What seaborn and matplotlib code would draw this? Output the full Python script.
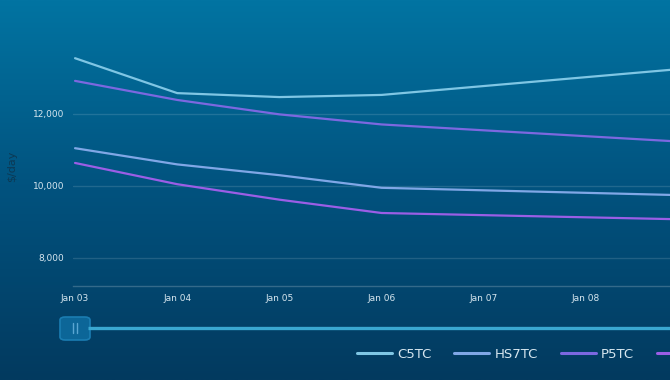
import numpy as np
import pandas as pd
import matplotlib
matplotlib.use("Agg")
import matplotlib.pyplot as plt
import seaborn as sns
from matplotlib.colors import LinearSegmentedColormap
from matplotlib.patches import FancyBboxPatch
from matplotlib.lines import Line2D

# ---- data ----
months = ["Jan 03", "Jan 04", "Jan 05", "Jan 06", "Jan 07", "Jan 08", "Jan 09"]
point_idx = [0, 1, 2, 3, 6]
series_names = ["C5TC", "HS7TC", "P5TC", "S10TC"]
c5tc = [13550, 12580, 12470, 12530, 13270]
hs7tc = [11050, 10600, 10300, 9950, 9740]
p5tc = [12920, 12390, 11990, 11710, 11220]
s10tc = [10640, 10050, 9620, 9250, 9070]
y_ticks = [8000, 10000, 12000]
y_tick_labels = ["8,000", "10,000", "12,000"]
colors = ["#7fc6e4", "#80a7e6", "#7c68e0", "#9b5ee6"]

rows = []
for name, vals in zip(series_names, [c5tc, hs7tc, p5tc, s10tc]):
    for i, v in zip(point_idx, vals):
        rows.append({"x": i, "value": v, "series": name})
df = pd.DataFrame(rows)

sns.set_theme(style="white")
plt.rcParams['font.family'] = ['DejaVu Sans']

W, H = 670, 380
fig = plt.figure(figsize=(W / 100, H / 100), dpi=100)

# background gradient
bg = fig.add_axes([0, 0, 1, 1], zorder=-10)
grad = np.linspace(0, 1, 256)[:, None]
cmap = LinearSegmentedColormap.from_list("bg", ["#0274a2", "#01527e", "#033a5f"])
bg.imshow(grad, aspect="auto", cmap=cmap, extent=[0, 1, 0, 1])
bg.axis("off")

def fx(px):
    return px / W

def fy(py):
    return 1 - py / H

ax_left, ax_right, ax_top, ax_bot = 73, 670, 45.6, 286
ax = fig.add_axes([fx(ax_left), fy(ax_bot), fx(ax_right - ax_left), (ax_bot - ax_top) / H])
ax.set_facecolor("none")

sns.lineplot(data=df, x="x", y="value", hue="series", hue_order=series_names,
             palette=colors, linewidth=1.6, ax=ax, legend=True)
handles, labels = ax.get_legend_handles_labels()
ax.get_legend().remove()

visible_ticks = list(range(6))
ax.set_xticks(visible_ticks)
ax.set_xticklabels([months[i] for i in visible_ticks])
ax.set_yticks(y_ticks)
ax.set_yticklabels(y_tick_labels)
ax.set_xlim(-0.02, (670 - 75) / 102.2)
ax.set_ylim(7222, 13900)
ax.set_xlabel("")
ax.set_ylabel("")
ax.tick_params(axis="both", length=0, labelsize=6.5, labelcolor="#d6e6ef")
ax.tick_params(axis="x", pad=6)
ax.tick_params(axis="y", pad=6.5)
ax.grid(axis="y", color="white", alpha=0.13, linewidth=1)
ax.grid(axis="x", visible=False)
for s in ["left", "top", "right"]:
    ax.spines[s].set_visible(False)
ax.spines["bottom"].set_color("white")
ax.spines["bottom"].set_alpha(0.2)
ax.spines["bottom"].set_linewidth(1)

# y label
fig.text(fx(12), fy(166), "$/day", rotation=90, ha="center", va="center",
         fontsize=8, color="#0c3954")

# slider
fig.add_artist(Line2D([fx(88), fx(670)], [fy(328), fy(328)], color="#3aa7d0",
                      linewidth=2.4, solid_capstyle="butt"))
fig.add_artist(FancyBboxPatch((fx(60), fy(340)), fx(30), (340 - 317) / H,
                              boxstyle="round,pad=0,rounding_size=0.008",
                              facecolor="#0c6698", edgecolor="#1b7db2", linewidth=1.2,
                              transform=fig.transFigure))
for px in (73, 77):
    fig.add_artist(Line2D([fx(px), fx(px)], [fy(323), fy(333)], color="#5aa6d2", linewidth=1.0))

# legend
for h in handles:
    h.set_linewidth(2.2)
leg = fig.legend(handles, labels, loc="center left", bbox_to_anchor=(fx(357), fy(354)),
                 ncol=4, frameon=False, fontsize=9.5, handlelength=2.65, handletextpad=0.38,
                 columnspacing=1.74, borderpad=0, borderaxespad=0)
for t in leg.get_texts():
    t.set_color("#d6e6ef")

fig.savefig("out.png", dpi=100)
